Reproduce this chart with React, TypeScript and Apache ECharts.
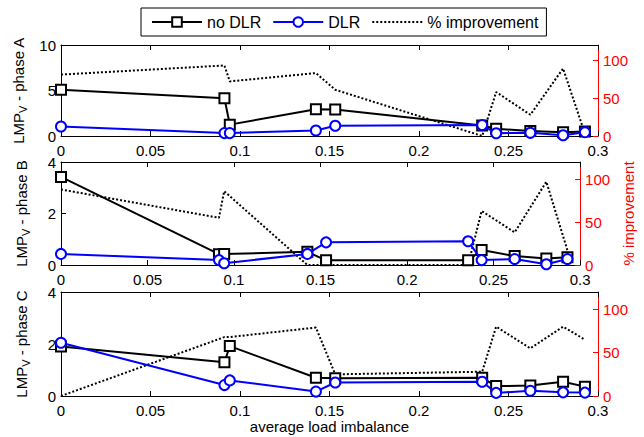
import React, { useEffect, useRef } from 'react';
import * as echarts from 'echarts';

// average load imbalance (x positions of the cases)
const imbalance = [0, 0.0913, 0.0943, 0.1424, 0.1532, 0.2353, 0.2431, 0.2622, 0.2805, 0.2927];

// phase A
const noDlrA = [5.08, 4.15, 1.25, 2.95, 2.9, 1.15, 0.8, 0.55, 0.42, 0.5];
const dlrA = [1.05, 0.32, 0.32, 0.6, 1.12, 1.2, 0.3, 0.35, 0.08, 0.42];
const imprA = [81, 93, 72, 83, 61, 0, 58, 28, 89, 3];

// phase B
const noDlrB = [3.42, 0.42, 0.43, 0.51, 0.18, 0.18, 0.58, 0.35, 0.25, 0.3];
const dlrB = [0.43, 0.19, 0.07, 0.43, 0.88, 0.92, 0.19, 0.23, 0.03, 0.23];
const imprB = [88, 55, 86, 0, 0, 0, 63, 38, 97, 17];

// phase C
const noDlrC = [1.9, 1.3, 1.92, 0.7, 0.68, 0.7, 0.38, 0.4, 0.55, 0.36];
const dlrC = [2.05, 0.42, 0.6, 0.17, 0.52, 0.55, 0.12, 0.2, 0.14, 0.13];
const imprC = [0, 68, 68, 79, 25, 28, 80, 55, 80, 65];

const xTicks = [0, 0.05, 0.1, 0.15, 0.2, 0.25, 0.3];
const yTicksA = [0, 5, 10];
const yTicksBC = [0, 2, 4];
const rightTicks = [0, 50, 100];
const phaseLabels = ['A', 'B', 'C'];
const legendNames = ['no DLR', 'DLR', '% improvement'];
const xAxisTitle = 'average load imbalance';
const rightAxisTitle = '% improvement';

const FONT = '"Liberation Sans", Arial, Helvetica, sans-serif';

const grids = [
  { left: 61, top: 45, width: 537, height: 91 },
  { left: 61, top: 162, width: 537, height: 103 },
  { left: 61, top: 292, width: 537, height: 104 },
];

const zip = (xs: number[], ys: number[]) => xs.map((x, i) => [x, ys[i]]);

export default function App() {
  const ref = useRef<HTMLDivElement>(null);
  useEffect(() => {
    if (!ref.current) return;
    const chart = echarts.init(ref.current, undefined, { renderer: 'svg' });
    const panels = [
      { no: noDlrA, dlr: dlrA, impr: imprA, yMax: 10, yTicks: yTicksA },
      { no: noDlrB, dlr: dlrB, impr: imprB, yMax: 4, yTicks: yTicksBC },
      { no: noDlrC, dlr: dlrC, impr: imprC, yMax: 4, yTicks: yTicksBC },
    ];
    const xAxes: any[] = [];
    const yAxes: any[] = [];
    const series: any[] = [];
    panels.forEach((p, i) => {
      xAxes.push({
        type: 'value', gridIndex: i, min: 0, max: 0.3, position: 'bottom',
        axisLine: { show: true, onZero: false, lineStyle: { color: '#000', width: 1 } },
        axisTick: { show: true, inside: true, length: 5, customValues: xTicks, lineStyle: { color: '#000' } },
        axisLabel: { show: true, customValues: xTicks, color: '#000', fontSize: 15, fontFamily: FONT, margin: 7 },
        splitLine: { show: false },
        name: i === 2 ? xAxisTitle : '',
        nameLocation: 'middle', nameGap: 22,
        nameTextStyle: { color: '#000', fontSize: 15, fontFamily: FONT },
      });
    });
    panels.forEach((p, i) => {
      xAxes.push({
        type: 'value', gridIndex: i, min: 0, max: 0.3, position: 'top',
        axisLine: { show: true, onZero: false, lineStyle: { color: '#000', width: 1 } },
        axisTick: { show: true, inside: true, length: 5, customValues: xTicks, lineStyle: { color: '#000' } },
        axisLabel: { show: false },
        splitLine: { show: false },
      });
    });
    panels.forEach((p, i) => {
      yAxes.push({
        type: 'value', gridIndex: i, min: 0, max: p.yMax, position: 'left',
        axisLine: { show: true, onZero: false, lineStyle: { color: '#000', width: 1 } },
        axisTick: { show: true, inside: true, length: 5, customValues: p.yTicks, lineStyle: { color: '#000' } },
        axisLabel: { customValues: p.yTicks, color: '#000', fontSize: 15, fontFamily: FONT, margin: 5 },
        splitLine: { show: false },
        name: `{a|LMP}{s|V}{a| - phase ${phaseLabels[i]}}`,
        nameLocation: 'middle', nameGap: 30, nameRotate: 90,
        nameTextStyle: {
          color: '#000', fontSize: 15, fontFamily: FONT,
          rich: {
            a: { fontSize: 15, fontFamily: FONT, color: '#000' },
            s: { fontSize: 11, fontFamily: FONT, color: '#000', padding: [8, 0, 0, 0] },
          },
        },
      });
      yAxes.push({
        type: 'value', gridIndex: i, min: 0, max: 120, position: 'right',
        axisLine: { show: true, onZero: false, lineStyle: { color: '#ff0000', width: 1 } },
        axisTick: { show: true, inside: true, length: 5, customValues: rightTicks, lineStyle: { color: '#ff0000' } },
        axisLabel: { customValues: rightTicks, color: '#ff0000', fontSize: 15, fontFamily: FONT, margin: 5 },
        splitLine: { show: false },
        name: i === 1 ? rightAxisTitle : '',
        nameLocation: 'middle', nameGap: 40, nameRotate: 90,
        nameTextStyle: { color: '#ff0000', fontSize: 15, fontFamily: FONT },
      });
      series.push({
        name: legendNames[0], type: 'line', xAxisIndex: i, yAxisIndex: 2 * i,
        data: zip(imbalance, p.no), symbol: 'emptyRect', symbolSize: 10,
        lineStyle: { color: '#000', width: 2 }, itemStyle: { color: '#000', borderWidth: 2 },
        z: 3,
      });
      series.push({
        name: legendNames[1], type: 'line', xAxisIndex: i, yAxisIndex: 2 * i,
        data: zip(imbalance, p.dlr), symbol: 'emptyCircle', symbolSize: 10,
        lineStyle: { color: '#0000ff', width: 2 }, itemStyle: { color: '#0000ff', borderWidth: 2 },
        z: 4,
      });
      series.push({
        name: legendNames[2], type: 'line', xAxisIndex: 3 + i, yAxisIndex: 2 * i + 1,
        data: zip(imbalance, p.impr), symbol: 'none',
        lineStyle: { color: '#000', width: 2, type: 'dotted' }, itemStyle: { color: '#000' },
        z: 2,
      });
    });

    chart.setOption({
      animation: false,
      backgroundColor: '#fff',
      grid: grids,
      xAxis: xAxes,
      yAxis: yAxes,
      legend: {
        data: [
          { name: legendNames[0] },
          { name: legendNames[1] },
          { name: legendNames[2], itemStyle: { opacity: 0 } },
        ],
        left: 141, top: 8, orient: 'horizontal',
        borderColor: '#000', borderWidth: 1, padding: [6, 8, 6, 10],
        itemGap: 11, itemWidth: 50, itemHeight: 12, selectedMode: false,
        textStyle: { color: '#000', fontSize: 16, fontFamily: FONT },
      },
      series,
    });
    return () => chart.dispose();
  }, []);
  return <div ref={ref} style={{ position: 'absolute', left: 0, top: 0, width: 644, height: 437, background: '#fff' }} />;
}
